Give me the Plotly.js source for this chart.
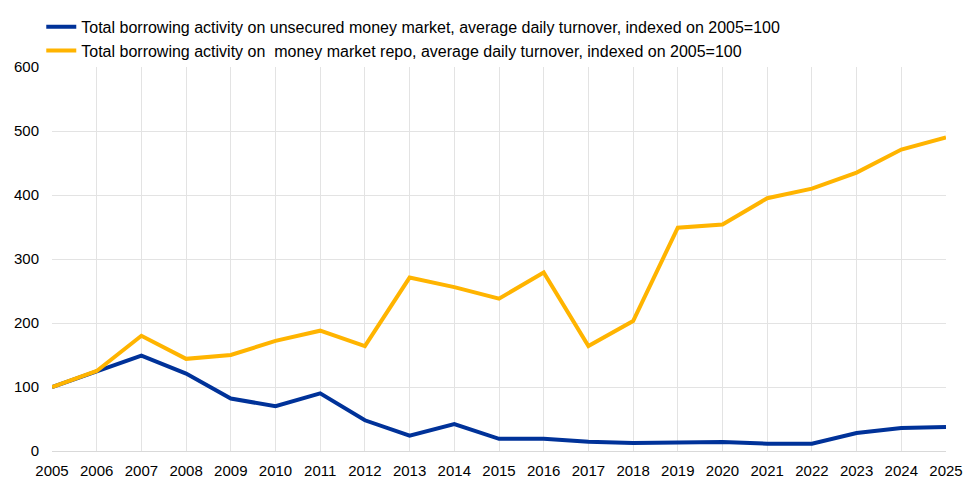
<!DOCTYPE html>
<html>
<head>
<meta charset="utf-8">
<script src="https://cdn.plot.ly/plotly-3.0.1.min.js"></script>
<style>html,body{margin:0;padding:0;background:#fff;}#chart{width:966px;height:483px;}</style>
</head>
<body>
<div id="chart"></div>
<script>
const years = [2005,2006,2007,2008,2009,2010,2011,2012,2013,2014,2015,2016,2017,2018,2019,2020,2021,2022,2023,2024,2025];
const unsecured = [100,125,149,121,82,70,90,48,24,42,19,19,14.5,12.5,13,14,11.5,11.5,28,36,37.5];
const repo = [100,125,180,144,150,172,188,164,271,256,238,279,164,203,349,354,395,410,435,471,490];
const nameUnsecured = "Total borrowing activity on unsecured money market, average daily turnover, indexed on 2005=100";
const nameRepo = "Total borrowing activity on  money market repo, average daily turnover, indexed on 2005=100";

const traces = [
  {x: years, y: unsecured, type: 'scatter', mode: 'lines', name: nameUnsecured,
   line: {color: '#003299', width: 4}},
  {x: years, y: repo, type: 'scatter', mode: 'lines', name: nameRepo,
   line: {color: '#FFB400', width: 4}}
];

const layout = {
  width: 966, height: 483,
  margin: {l: 52, r: 20, t: 67, b: 32, autoexpand: false},
  paper_bgcolor: '#fff', plot_bgcolor: '#fff',
  font: {family: 'Liberation Sans, Arial, sans-serif', size: 15, color: '#000'},
  showlegend: true,
  legend: {orientation: 'v', x: -0.012, y: 1.149, xanchor: 'left', yanchor: 'top',
           font: {size: 16}, itemwidth: 30, tracegroupgap: 0, bgcolor: 'rgba(0,0,0,0)'},
  xaxis: {range: [2005, 2025], tickmode: 'linear', tick0: 2005, dtick: 1,
          showgrid: true, gridcolor: '#e3e3e3', gridwidth: 1, zeroline: false,
          showline: false, ticks: 'outside', ticklen: 6, tickcolor: 'rgba(0,0,0,0)',
          tickfont: {size: 15}, fixedrange: true},
  yaxis: {range: [0, 600], tickmode: 'linear', tick0: 0, dtick: 100,
          showgrid: true, gridcolor: '#e3e3e3', gridwidth: 1, zeroline: true,
          zerolinecolor: '#d9d9d9', zerolinewidth: 1, showline: false,
          ticks: 'outside', ticklen: 9, tickcolor: 'rgba(0,0,0,0)',
          tickfont: {size: 15}, fixedrange: true}
};

Plotly.newPlot('chart', traces, layout, {displayModeBar: false, staticPlot: true});
</script>
</body>
</html>
